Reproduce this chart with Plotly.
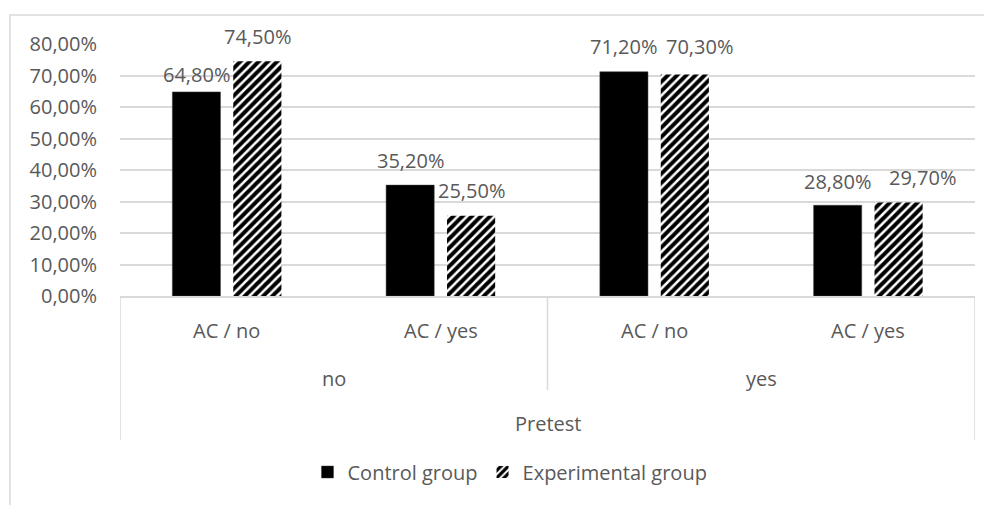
import plotly.graph_objects as go

# ---- data ----
pretest = ["no", "no", "yes", "yes"]
ac = ["AC / no", "AC / yes", "AC / no", "AC / yes"]
control = [0.648, 0.352, 0.712, 0.288]
experimental = [0.745, 0.255, 0.703, 0.297]
series_names = ["Control group", "Experimental group"]
outer_title = "Pretest"

keys = [f"{p}|{a}" for p, a in zip(pretest, ac)]

FONT = "'Open Sans', Lato, sans-serif"
FS = 20
GRAY = "#595959"
GRID = "#d9d9d9"
PLOT_H = 252.0  # px height of plot area
PLOT_W = 855.0

# label placement tweaks (pixels), like manually-moved Excel labels
ctrl_label_dx = [0, 0, 0, 0]
ctrl_label_dy = [17, 25, 25, 24]
exp_label_dx = [0, 0, 15, 24]
exp_label_dy = [25, 25, 28, 25]

def px_to_paper_y(px_below_axis):
    return -px_below_axis / PLOT_H

def fmt(v):
    return f"{v*100:.2f}%".replace(".", ",")

fig = go.Figure()
fig.add_trace(go.Bar(
    x=keys, y=control, name=series_names[0],
    marker=dict(color="black", line=dict(color="#404040", width=0.5)),
))
fig.add_trace(go.Bar(
    x=keys, y=experimental, name=series_names[1],
    marker=dict(color="white", line=dict(width=0),
                pattern=dict(shape="/", fgcolor="black", bgcolor="white",
                             fgopacity=1, fillmode="replace",
                             size=6.5, solidity=0.62)),
))

annotations = []
for series, base_dx, ndx, ndy in ((control, -30.5, ctrl_label_dx, ctrl_label_dy),
                                  (experimental, 30.5, exp_label_dx, exp_label_dy)):
    for k, v, ddx, ddy in zip(keys, series, ndx, ndy):
        annotations.append(dict(x=k, y=v, xref="x", yref="y", text=fmt(v),
                                showarrow=False, xshift=base_dx + ddx, yshift=ddy,
                                font=dict(family=FONT, size=FS, color=GRAY)))

# tier-1 labels
for k, a in zip(keys, ac):
    annotations.append(dict(x=k, y=px_to_paper_y(34), xref="x", yref="paper",
                            text=a, showarrow=False, yanchor="middle",
                            font=dict(family=FONT, size=FS, color=GRAY)))
# tier-2 labels
groups = []
for i, p in enumerate(pretest):
    if not groups or groups[-1][0] != p:
        groups.append([p, i, i])
    else:
        groups[-1][2] = i
for p, i0, i1 in groups:
    annotations.append(dict(x=(i0 + i1) / 2, y=px_to_paper_y(82), xref="x", yref="paper",
                            text=p, showarrow=False, yanchor="middle",
                            font=dict(family=FONT, size=FS, color=GRAY)))
# tier-3 label
annotations.append(dict(x=(len(keys) - 1) / 2, y=px_to_paper_y(127), xref="x", yref="paper",
                        text=outer_title, showarrow=False, yanchor="middle",
                        font=dict(family=FONT, size=FS, color=GRAY)))

shapes = []
line_style = dict(color=GRID, width=1.5)
for xv in (-0.5, len(keys) - 0.5):
    shapes.append(dict(type="line", xref="x", yref="paper", x0=xv, x1=xv,
                       y0=0, y1=px_to_paper_y(144), line=line_style))
for p, i0, i1 in groups[:-1]:
    xv = i1 + 0.5
    shapes.append(dict(type="line", xref="x", yref="paper", x0=xv, x1=xv,
                       y0=0, y1=px_to_paper_y(94), line=line_style))
# chart border
shapes.append(dict(type="rect", xref="paper", yref="paper",
                   x0=-110 / PLOT_W, x1=1.2, y0=-2, y1=1 + 29 / PLOT_H,
                   line=dict(color=GRID, width=1.5), fillcolor="rgba(0,0,0,0)", layer="below"))

W, H = 984, 497
fig.update_layout(
    width=W, height=H,
    margin=dict(l=112, r=W - 112 - 855, t=36, b=H - 36 - 252),
    paper_bgcolor="white", plot_bgcolor="white",
    separators=", ",
    barmode="group", bargap=0.43, bargroupgap=0.21,
    font=dict(family=FONT, size=FS, color=GRAY),
    xaxis=dict(type="category", showticklabels=False, showgrid=False,
               showline=True, linecolor=GRID, linewidth=1.5,
               range=[-0.5, len(keys) - 0.5], zeroline=False, fixedrange=True),
    yaxis=dict(range=[0, 0.8], dtick=0.1, tickformat=".2%", showgrid=True,
               gridcolor=GRID, gridwidth=1.5, zeroline=False, showline=False,
               ticks="", ticklabelstandoff=22,
               tickfont=dict(family=FONT, size=FS, color=GRAY)),
    legend=dict(orientation="h", x=502 / W, xref="container", xanchor="center",
                y=1 - 464 / H, yref="container", yanchor="middle",
                font=dict(family=FONT, size=FS, color=GRAY),
                itemclick=False, itemdoubleclick=False),
    annotations=annotations,
    shapes=shapes,
    showlegend=True,
)

fig.write_html("out.html")
